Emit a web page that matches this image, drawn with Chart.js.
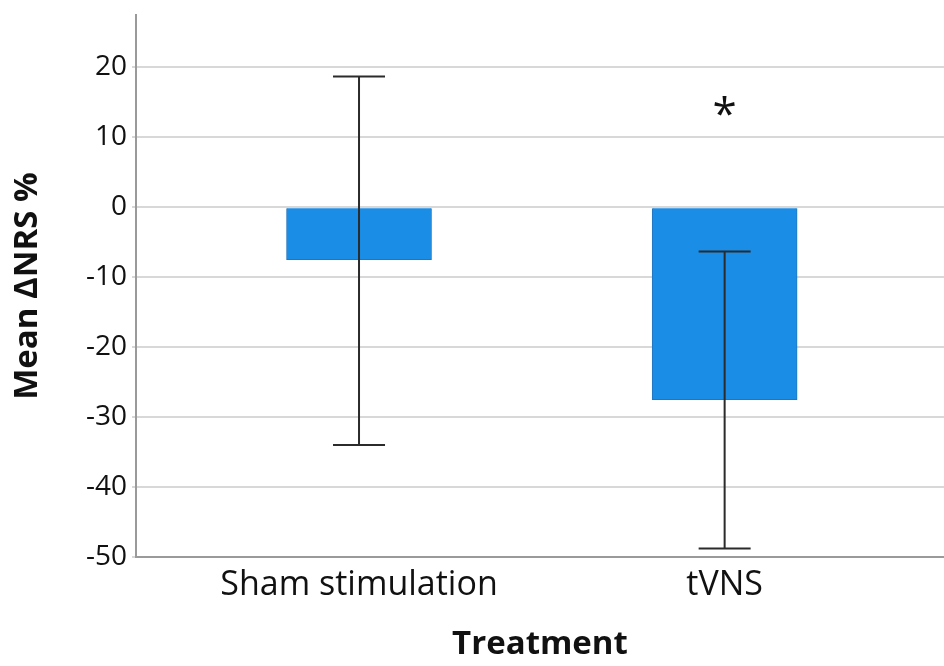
<!DOCTYPE html>
<html>
<head>
<meta charset="utf-8">
<script src="https://cdn.jsdelivr.net/npm/chart.js@4/dist/chart.umd.min.js"></script>
<style>
  html, body { margin: 0; padding: 0; background: #fff; }
  #wrap { width: 944px; height: 666px; }
</style>
</head>
<body>
<div id="wrap"><canvas id="chart"></canvas></div>
<script>
// data
const categories = ["Sham stimulation", "tVNS"];
const meanValues = [-7.5, -27.5];
const errLow = [-34.0, -48.8];
const errHigh = [18.7, -6.3];
const sigMarks = ["", "*"];
const sigLevel = [null, 13.5];
const yTicks = [-50, -40, -30, -20, -10, 0, 10, 20];

const FONT = "'Open Sans', 'Noto Sans', sans-serif";

// error bars + significance star
const errorBars = {
  id: "errorBars",
  afterDatasetsDraw(chart) {
    const { ctx, scales: { x, y } } = chart;
    ctx.save();
    ctx.strokeStyle = "#2b2b2b";
    ctx.lineWidth = 2;
    categories.forEach((c, i) => {
      const px = x.getPixelForValue(i);
      const top = y.getPixelForValue(errHigh[i]);
      const bot = y.getPixelForValue(errLow[i]);
      const cap = 26;
      ctx.beginPath();
      ctx.moveTo(px, top); ctx.lineTo(px, bot);
      ctx.moveTo(px - cap, top); ctx.lineTo(px + cap, top);
      ctx.moveTo(px - cap, bot); ctx.lineTo(px + cap, bot);
      ctx.stroke();
      if (sigMarks[i]) {
        ctx.fillStyle = "#111";
        ctx.font = "44px " + FONT;
        ctx.textAlign = "center";
        ctx.textBaseline = "middle";
        ctx.fillText(sigMarks[i], px, y.getPixelForValue(sigLevel[i]) + 4);
      }
    });
    ctx.restore();
  }
};

new Chart(document.getElementById("chart"), {
  type: "bar",
  data: {
    datasets: [{
      data: meanValues.map((v, i) => ({ x: i, y: v })),
      backgroundColor: "#1a8de6",
      borderColor: "#2375bd",
      borderWidth: 1,
      barThickness: 145
    }]
  },
  options: {
    responsive: true,
    maintainAspectRatio: false,
    animation: false,
    layout: { padding: { top: 15, right: 0, left: 0, bottom: 0 } },
    plugins: { legend: { display: false }, tooltip: { enabled: false } },
    scales: {
      x: {
        type: "linear",
        offset: false,
        min: -0.61,
        max: 1.6,
        afterBuildTicks: (s) => { s.ticks = categories.map((c, i) => ({ value: i })); },
        afterFit: (s) => { s.height = 109; },
        ticks: {
          callback: (v) => categories[v],
          color: "#111",
          font: { family: FONT, size: 34 },
          padding: 0,
          autoSkip: false,
          maxRotation: 0
        },
        grid: { display: false, offset: false },
        border: { color: "#9a9a9a", width: 2 },
        title: {
          display: true,
          text: "Treatment",
          color: "#111",
          font: { family: FONT, size: 33, weight: "bold" },
          padding: { top: 0, bottom: 2 }
        }
      },
      y: {
        min: -50,
        max: 27.5,
        afterBuildTicks: (s) => { s.ticks = yTicks.map(v => ({ value: v })); },
        afterFit: (s) => { s.width = 136; s.paddingTop = 0; },
        ticks: {
          color: "#111",
          font: { family: FONT, size: 28 },
          padding: 5
        },
        grid: { color: "#d8d8d8", lineWidth: 2, tickLength: 4 },
        border: { color: "#9a9a9a", width: 2 },
        title: {
          display: true,
          text: "Mean ΔNRS %",
          color: "#111",
          font: { family: FONT, size: 33, weight: "bold" },
          padding: { top: 8, bottom: 0 }
        }
      }
    }
  },
  plugins: [errorBars]
});
</script>
</body>
</html>
